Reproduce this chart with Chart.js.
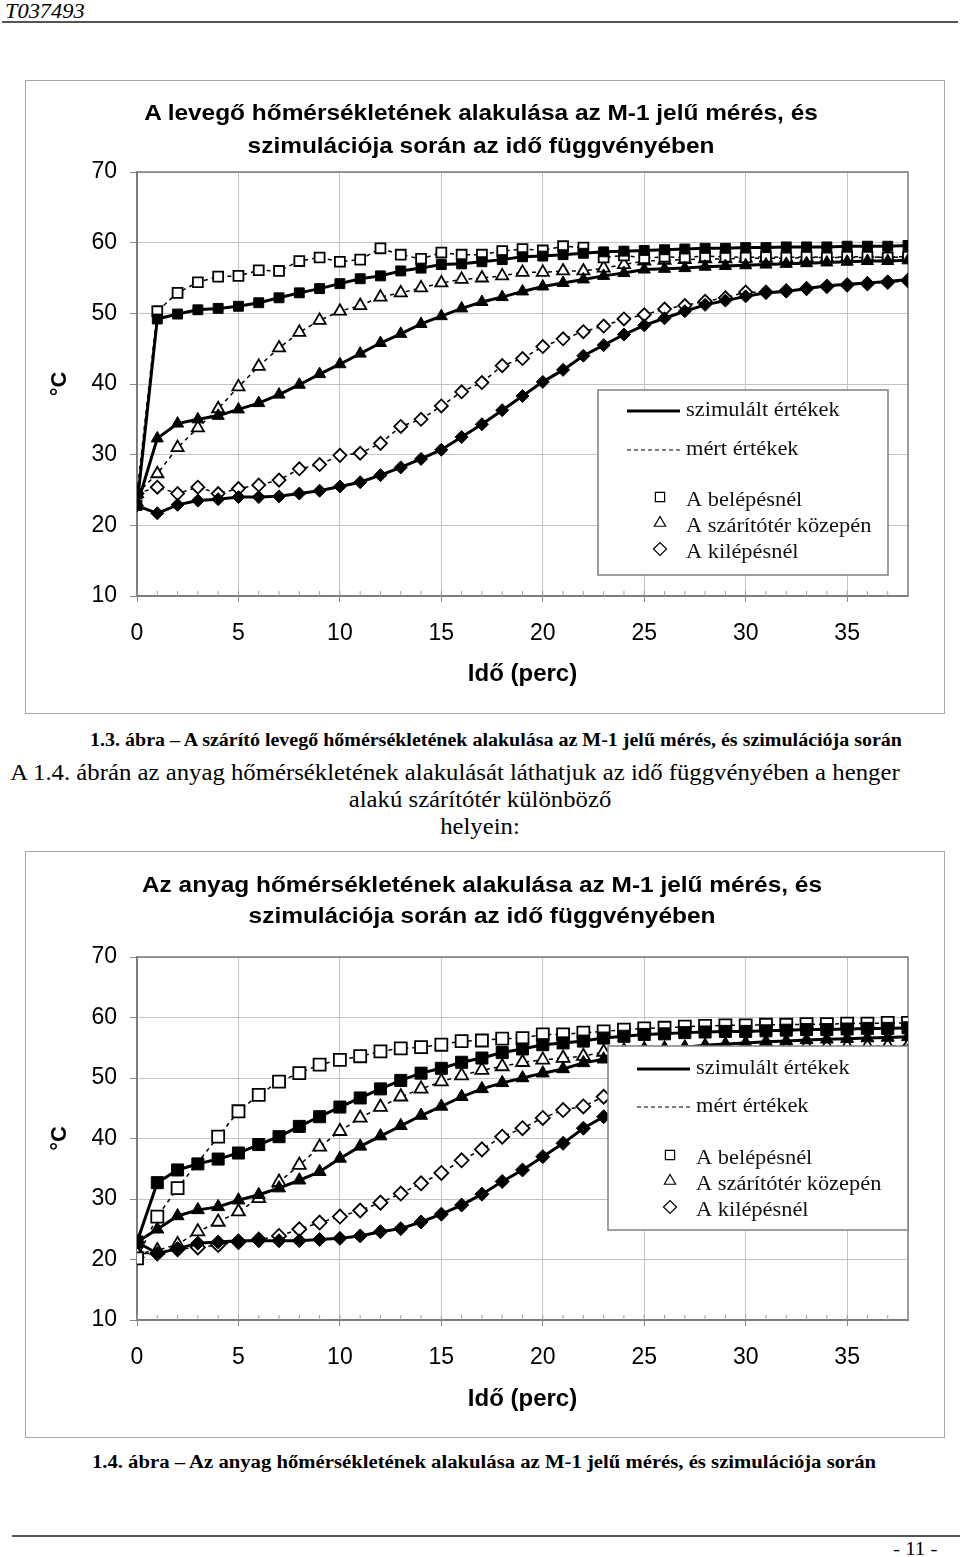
<!DOCTYPE html>
<html>
<head>
<meta charset="utf-8">
<title>M-1 mérés</title>
<script src="https://cdn.jsdelivr.net/npm/chart.js@4.4.1/dist/chart.umd.min.js"></script>
<style>
    html, body { margin: 0; padding: 0; background: #fff; }
    body {
        position: relative; width: 960px; height: 1557px; overflow: hidden;
        font-family: 'Liberation Serif', 'Times New Roman', serif; color: #000;
    }
    .abs { position: absolute; }
    .header { left: 5px; top: 0px; font-style: italic; font-size: 20px; line-height: 22px; transform: scaleX(1.12); transform-origin: left center; }
    .rule { left: 2px; width: 956px; height: 2px; background: #555; }
    .box { left: 25px; width: 918px; border: 1px solid #a8a8a8; }
    .box .wrap { position: absolute; left: 0; top: 0; right: 0; bottom: 0; }
    .ctitle {
        position: absolute; left: 0; width: 100%; text-align: center;
        font-family: 'Liberation Sans', Arial, sans-serif; font-weight: bold; font-size: 22px;
        transform: scaleX(1.11);
    }
    .caption { width: 960px; text-align: center; font-weight: bold; font-size: 18px; line-height: 22px; transform: scaleX(1.11); }
    .para { width: 960px; text-align: center; font-size: 22.5px; line-height: 27px; transform: scaleX(1.1); }
    .pageno { left: 893px; top: 1538px; font-size: 19px; line-height: 22px; transform: scaleX(1.1); transform-origin: left center; }
</style>
</head>
<body>

<div class="abs header">T037493</div>
<div class="abs rule" style="top:21px"></div>

<div class="abs box" style="top:80px; height:632px;">
    <div class="wrap"><canvas id="air-chart"></canvas></div>
    <div class="ctitle" style="top:15px; line-height:33px; left:-4px;">A levegő hőmérsékletének alakulása az M-1 jelű mérés, és<br>szimulációja során az idő függvényében</div>
</div>

<div class="abs caption" style="top:729px; left:16px;">1.3. ábra – A szárító levegő hőmérsékletének alakulása az M-1 jelű mérés, és szimulációja során</div>

<div class="abs para" style="top:759px; left:-25px;">A 1.4. ábrán az anyag hőmérsékletének alakulását láthatjuk az idő függvényében a henger</div>
<div class="abs para" style="top:786px; left:0px;">alakú szárítótér különböző</div>
<div class="abs para" style="top:813px; left:0px;">helyein:</div>

<div class="abs box" style="top:851px; height:585px;">
    <div class="wrap"><canvas id="material-chart"></canvas></div>
    <div class="ctitle" style="top:17px; line-height:31px; left:-3px;">Az anyag hőmérsékletének alakulása az M-1 jelű mérés, és<br>szimulációja során az idő függvényében</div>
</div>

<div class="abs caption" style="top:1451px; left:4px; transform:scaleX(1.15);">1.4. ábra – Az anyag hőmérsékletének alakulása az M-1 jelű mérés, és szimulációja során</div>

<div class="abs rule" style="top:1535px; left:12px; width:948px;"></div>
<div class="abs pageno">- 11 -</div>

<script>
// Time axis (minutes)
const minutes = [0, 1, 2, 3, 4, 5, 6, 7, 8, 9, 10, 11, 12, 13, 14, 15, 16, 17, 18, 19,
    20, 21, 22, 23, 24, 25, 26, 27, 28, 29, 30, 31, 32, 33, 34, 35, 36, 37, 38];
const xTicks = [0, 5, 10, 15, 20, 25, 30, 35];
const yTicks = [10, 20, 30, 40, 50, 60, 70];

// 1.3 - air temperature (°C)
const airInletSim = [22.8, 49.2, 49.9, 50.5, 50.7, 51.0, 51.5, 52.2, 52.9, 53.5, 54.2, 54.9, 55.3, 56.0, 56.4, 56.9, 57.0, 57.3, 57.6, 58.0,
    58.1, 58.3, 58.5, 58.7, 58.8, 58.9, 59.0, 59.1, 59.2, 59.2, 59.3, 59.3, 59.4, 59.4, 59.4, 59.5, 59.5, 59.5, 59.6];
const airInletMeas = [24.5, 50.3, 52.9, 54.4, 55.2, 55.3, 56.1, 56.0, 57.4, 57.9, 57.3, 57.6, 59.2, 58.3, 57.7, 58.6, 58.3, 58.3, 58.8, 59.1,
    58.9, 59.5, 59.3, 57.9, 58.2, 57.8, 58.0, 57.9, 58.1, 58.0, 57.9, 58.0, 57.9, 58.0, 57.9, 58.0, 58.0, 57.9, 58.0];
const airMidSim = [22.8, 32.3, 34.4, 35.0, 35.5, 36.4, 37.3, 38.5, 39.9, 41.4, 42.8, 44.3, 45.8, 47.1, 48.5, 49.6, 50.7, 51.6, 52.3, 53.1,
    53.8, 54.3, 54.8, 55.3, 55.7, 56.2, 56.3, 56.4, 56.6, 56.7, 56.8, 56.9, 57.0, 57.1, 57.2, 57.3, 57.4, 57.4, 57.5];
const airMidMeas = [24.5, 27.3, 31.0, 33.8, 36.5, 39.6, 42.5, 45.1, 47.3, 49.0, 50.3, 51.1, 52.3, 52.9, 53.6, 54.3, 54.8, 55.0, 55.3, 55.8,
    55.8, 56.0, 56.0, 56.4, 56.9, 57.4, 57.5, 57.6, 57.7, 57.7, 57.8, 57.8, 57.8, 57.9, 57.9, 57.9, 57.9, 58.0, 58.0];
const airOutSim = [22.8, 21.7, 22.9, 23.5, 23.7, 24.0, 24.0, 24.1, 24.5, 24.9, 25.5, 26.1, 27.1, 28.2, 29.4, 30.7, 32.5, 34.3, 36.3, 38.3,
    40.3, 42.0, 44.0, 45.5, 47.0, 48.3, 49.3, 50.3, 51.2, 51.8, 52.4, 52.9, 53.1, 53.5, 53.9, 54.1, 54.3, 54.5, 54.8];
const airOutMeas = [24.5, 25.4, 24.5, 25.4, 24.5, 25.2, 25.7, 26.4, 28.0, 28.6, 29.9, 30.2, 31.6, 34.0, 35.0, 36.9, 38.9, 40.2, 42.6, 43.6,
    45.3, 46.4, 47.4, 48.2, 49.2, 49.8, 50.6, 51.1, 51.7, 52.2, 53.0, 53.0, 53.2, 53.5, 53.8, 54.0, 54.2, 54.4, 54.6];

// 1.4 - material temperature (°C)
const matInletSim = [22.9, 32.7, 34.8, 35.8, 36.6, 37.6, 39.0, 40.3, 42.0, 43.6, 45.2, 46.7, 48.2, 49.6, 50.8, 51.6, 52.6, 53.3, 54.2, 54.8,
    55.5, 55.8, 56.1, 56.6, 56.9, 57.2, 57.3, 57.5, 57.6, 57.7, 57.7, 57.8, 57.9, 58.0, 58.0, 58.1, 58.2, 58.2, 58.3];
const matInletMeas = [20.2, 27.1, 31.8, null, 40.3, 44.5, 47.2, 49.4, 50.8, 52.2, 53.0, 53.6, 54.4, 54.9, 55.1, 55.5, 56.1, 56.2, 56.5, 56.6,
    57.2, 57.2, 57.5, 57.7, 58.0, 58.2, 58.3, 58.5, 58.6, 58.7, 58.7, 58.8, 58.8, 58.9, 58.9, 59.0, 59.0, 59.1, 59.1];
const matMidSim = [22.9, 25.0, 27.2, 28.2, 28.7, 29.8, 30.7, 31.8, 33.1, 34.5, 36.7, 38.7, 40.4, 42.1, 43.8, 45.3, 46.9, 48.2, 49.2, 50.0,
    50.8, 51.5, 52.5, 53.1, 53.9, 54.4, 54.8, 55.1, 55.4, 55.6, 55.8, 56.0, 56.1, 56.3, 56.4, 56.5, 56.6, 56.7, 56.8];
const matMidMeas = [21.0, 21.5, 22.5, 24.6, 26.2, 27.9, 30.1, 32.8, 35.6, 38.6, 41.2, 43.4, 45.2, 46.9, 48.2, 49.4, 50.4, 51.3, 51.9, 52.6,
    53.0, 53.3, 53.6, 54.3, 54.5, 54.7, 54.8, 54.9, 55.0, 55.0, 55.1, 55.1, 55.1, 55.2, 55.2, 55.2, 55.2, 55.3, 55.3];
const matOutSim = [22.9, 21.0, 21.8, 22.7, 22.9, 23.1, 23.1, 23.1, 23.1, 23.3, 23.5, 23.9, 24.6, 25.1, 26.2, 27.5, 29.0, 30.8, 32.9, 34.8,
    37.0, 39.2, 41.7, 43.6, 45.3, 46.8, 48.0, 49.1, 50.0, 50.8, 51.5, 52.1, 52.6, 53.0, 53.4, 53.7, 54.0, 54.2, 54.5];
const matOutMeas = [21.0, 21.0, 21.7, 22.0, 22.4, 22.9, 23.3, 23.9, 25.0, 26.1, 27.1, 28.1, 29.4, 30.9, 32.6, 34.3, 36.4, 38.2, 40.3, 41.7,
    43.4, 44.7, 45.3, 46.9, 48.0, 49.0, 49.9, 50.7, 51.4, 52.0, 52.5, 53.0, 53.4, 53.8, 54.1, 54.4, 54.6, 54.8, 55.0];

const legendRows = ['szimulált értékek', 'mért értékek', 'A belépésnél', 'A szárítótér közepén', 'A kilépésnél'];
const markerStyles = ['rect', 'triangle', 'rectRot'];

const SANS = "'Liberation Sans', Arial, sans-serif";
const SERIF = "'Liberation Serif', 'Times New Roman', serif";

Chart.defaults.font.family = SANS;
Chart.defaults.color = '#000';

function points(values) {
    return minutes.map((m, i) => ({ x: m, y: values[i] }));
}

// Simulated series: solid line, filled marker
function simSet(values, style, radius) {
    return {
        data: points(values),
        borderColor: '#000',
        borderWidth: 3,
        pointStyle: style,
        pointRadius: radius,
        pointBackgroundColor: '#000',
        pointBorderColor: '#000',
        pointBorderWidth: 1
    };
}

// Measured series: dashed thin line, open marker
function measSet(values, style, radius) {
    return {
        data: points(values),
        borderColor: '#000',
        borderWidth: 1.5,
        borderDash: [4, 4],
        spanGaps: true,
        pointStyle: style,
        pointRadius: radius,
        pointBackgroundColor: '#fff',
        pointBorderColor: '#000',
        pointBorderWidth: 1.8
    };
}

// Plot frame and the one-minute minor ticks
const framePlugin = {
    id: 'frame',
    beforeDatasetsDraw(chart) {
        const { ctx, chartArea: a, scales: { x } } = chart;
        ctx.save();
        ctx.strokeStyle = '#7a7a7a';
        ctx.lineWidth = 1.5;
        ctx.strokeRect(a.left, a.top, a.right - a.left, a.bottom - a.top);
        ctx.lineWidth = 1;
        ctx.strokeStyle = '#a0a0a0';
        minutes.forEach(m => {
            const px = x.getPixelForValue(m);
            ctx.beginPath();
            ctx.moveTo(px, a.bottom);
            ctx.lineTo(px, a.bottom - 5);
            ctx.stroke();
        });
        ctx.restore();
    }
};

// Boxed legend like the original spreadsheet chart
const boxLegendPlugin = {
    id: 'boxLegend',
    afterDraw(chart, args, opts) {
        const ctx = chart.ctx;
        const { x, y, w, h, rowY } = opts;
        ctx.save();
        ctx.fillStyle = '#fff';
        ctx.fillRect(x, y, w, h);
        ctx.strokeStyle = '#808080';
        ctx.lineWidth = 1.5;
        ctx.strokeRect(x, y, w, h);

        ctx.strokeStyle = '#000';
        ctx.lineWidth = 3;
        ctx.beginPath();
        ctx.moveTo(x + 29, y + rowY[0]);
        ctx.lineTo(x + 82, y + rowY[0]);
        ctx.stroke();

        ctx.lineWidth = 1.2;
        ctx.setLineDash([4, 3]);
        ctx.beginPath();
        ctx.moveTo(x + 29, y + rowY[1]);
        ctx.lineTo(x + 84, y + rowY[1]);
        ctx.stroke();
        ctx.setLineDash([]);

        ctx.fillStyle = '#fff';
        ctx.strokeStyle = '#000';
        markerStyles.forEach((style, i) => {
            Chart.helpers.drawPoint(ctx, { pointStyle: style, radius: 6.5, rotation: 0, borderWidth: 1.6 },
                x + 62, y + rowY[i + 2] - 4);
        });

        // text is a little wider than plain Times in the original
        ctx.fillStyle = '#111';
        ctx.font = '20px ' + SERIF;
        ctx.textBaseline = 'middle';
        legendRows.forEach((label, i) => {
            ctx.save();
            ctx.translate(x + 88, y + rowY[i]);
            ctx.scale(1.12, 1);
            ctx.fillText(label, 0, 0);
            ctx.restore();
        });
        ctx.restore();
    }
};

function renderChart(canvasId, series, legendBox, markerSize) {
    const ctx = document.getElementById(canvasId);
    return new Chart(ctx, {
        type: 'line',
        data: {
            datasets: [
                simSet(series[0], 'rect', markerSize.square),
                simSet(series[2], 'triangle', markerSize.tri),
                simSet(series[4], 'rectRot', markerSize.diamond),
                measSet(series[1], 'rect', markerSize.square),
                measSet(series[3], 'triangle', markerSize.tri),
                measSet(series[5], 'rectRot', markerSize.diamond)
            ]
        },
        options: {
            responsive: true,
            maintainAspectRatio: false,
            animation: false,
            layout: { padding: { top: legendBox.padTop, right: 36, left: 0, bottom: 0 } },
            elements: { line: { tension: 0 } },
            plugins: {
                legend: { display: false },
                tooltip: { enabled: false },
                boxLegend: legendBox
            },
            scales: {
                x: {
                    type: 'linear',
                    min: 0,
                    max: 38,
                    afterFit: s => { s.height = 117; },
                    afterBuildTicks: s => { s.ticks = xTicks.map(v => ({ value: v })); },
                    ticks: { font: { size: 23 }, color: '#000', padding: 18, maxRotation: 0 },
                    grid: { color: '#c4c4c4', tickLength: 6, tickColor: '#8a8a8a' },
                    border: { color: '#7a7a7a', width: 1.5 },
                    title: {
                        display: true,
                        text: 'Idő (perc)',
                        color: '#000',
                        font: { size: 24, weight: 'bold' },
                        padding: { top: 0, bottom: legendBox.xTitlePad }
                    }
                },
                y: {
                    min: 10,
                    max: 70,
                    afterFit: s => { s.width = 111; },
                    afterBuildTicks: s => { s.ticks = yTicks.map(v => ({ value: v })); },
                    ticks: { font: { size: 23 }, color: '#000', padding: 13 },
                    grid: { color: '#c4c4c4', tickLength: 7, tickColor: '#8a8a8a' },
                    border: { color: '#7a7a7a', width: 1.5 },
                    title: {
                        display: true,
                        text: '°C',
                        color: '#000',
                        font: { size: 22, weight: 'bold' },
                        padding: { top: 21, bottom: 0 }
                    }
                }
            }
        },
        plugins: [framePlugin, boxLegendPlugin]
    });
}

renderChart('air-chart',
    [airInletSim, airInletMeas, airMidSim, airMidMeas, airOutSim, airOutMeas],
    { x: 572, y: 309, w: 290, h: 185, rowY: [21, 60, 111, 137, 163], padTop: 91, xTitlePad: 24 },
    { square: 7, tri: 7, diamond: 6.5 });

renderChart('material-chart',
    [matInletSim, matInletMeas, matMidSim, matMidMeas, matOutSim, matOutMeas],
    { x: 582, y: 194, w: 300, h: 184, rowY: [23, 61, 113, 139, 165], padTop: 105, xTitlePad: 23 },
    { square: 8.5, tri: 7.5, diamond: 7 });
</script>
</body>
</html>
